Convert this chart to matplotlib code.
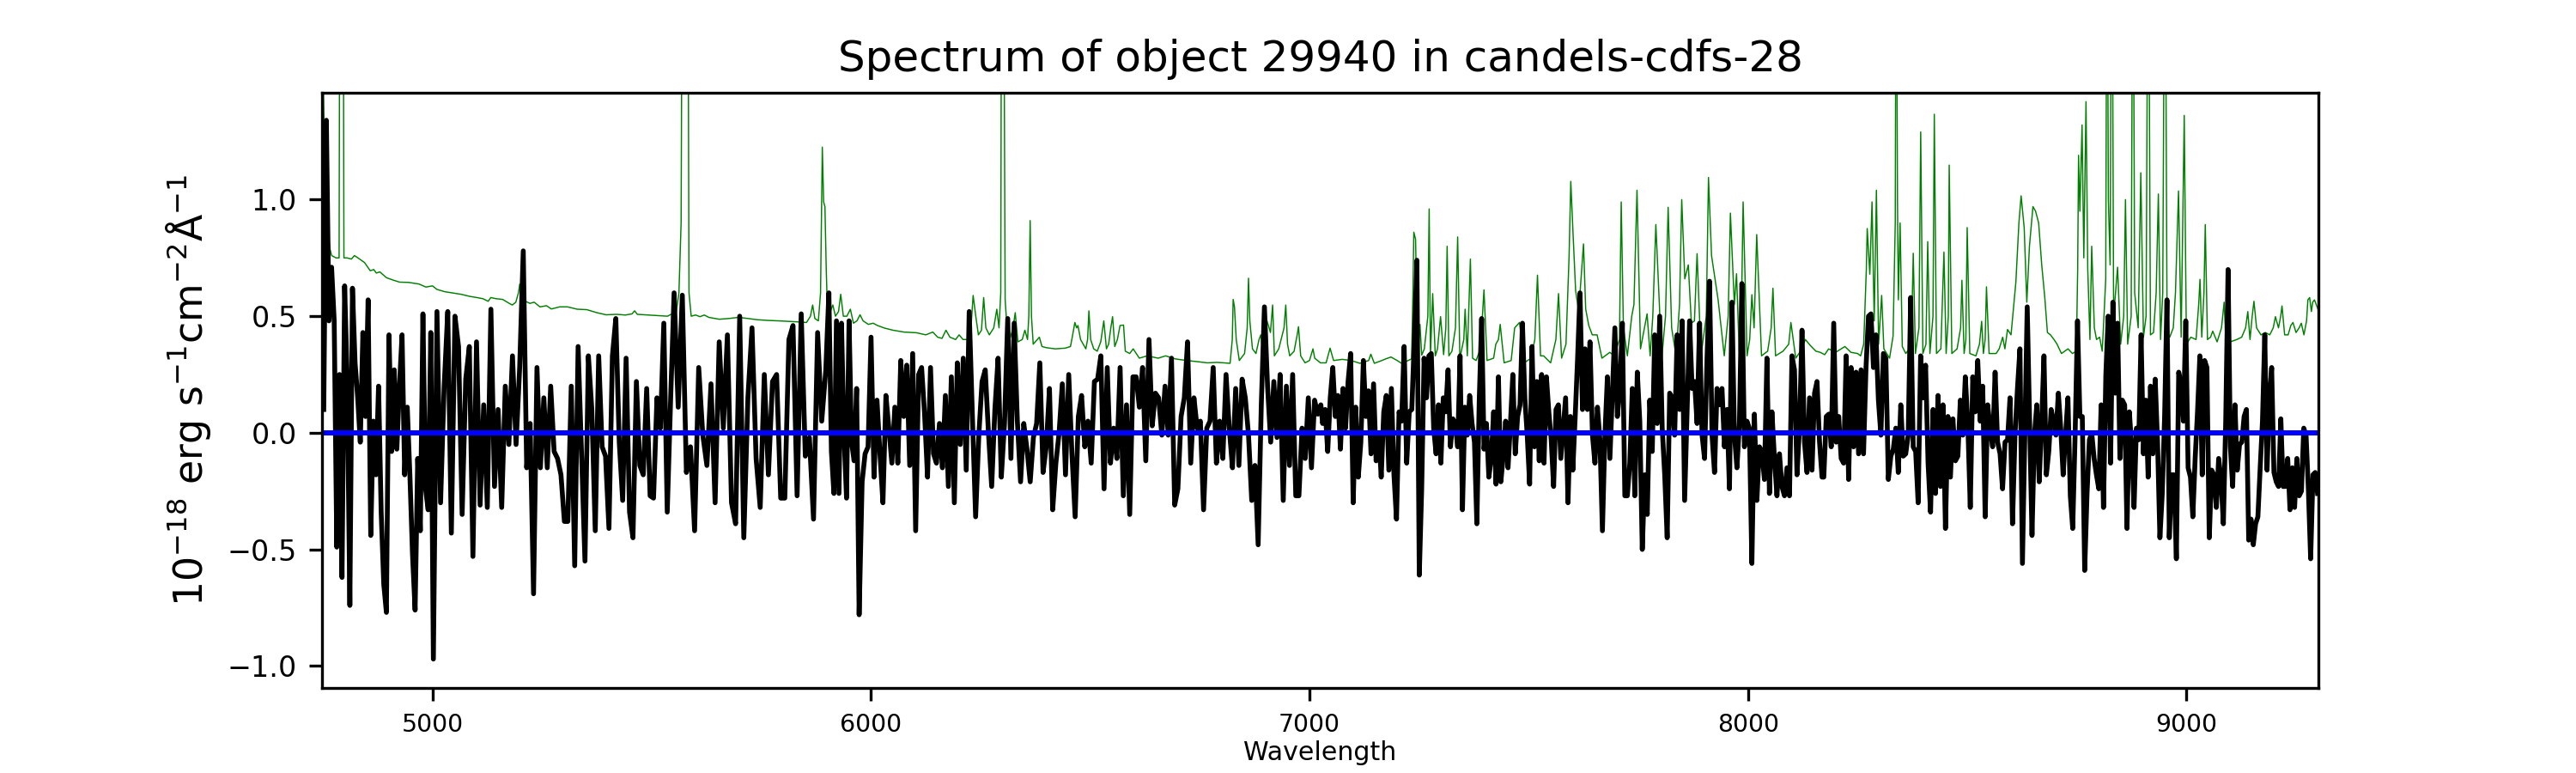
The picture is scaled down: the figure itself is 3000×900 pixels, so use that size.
import numpy as np
import matplotlib
matplotlib.use("Agg")
import matplotlib.pyplot as plt

# ---- flux (10^-18 erg/s/cm2/A) in four wavelength chunks ----
flux_a = [0.10, 1.34, 0.48, 0.71, 0.48, -0.49, 0.25, -0.62, 0.63, 0.22,
          -0.74, 0.62, 0.30, 0.15, -0.04, 0.43, 0.07, 0.57, -0.44, 0.05,
          -0.18, 0.20, -0.34, -0.65, -0.77, 0.42, -0.08, 0.27, -0.07, 0.20,
          0.42, -0.18, 0.11, -0.18, -0.52, -0.76, -0.11, -0.42, 0.51, -0.24,
          -0.33, 0.43, -0.97, 0.52, -0.30, 0.20, 0.52, -0.43, 0.50, 0.37,
          -0.35, 0.23, 0.37, -0.53, 0.39, -0.31, 0.12, -0.32, 0.53, -0.23,
          0.10, -0.32, 0.20, -0.05, 0.33, -0.05, 0.28, 0.78, -0.15, 0.04,
          -0.69, 0.28, -0.15, 0.15, -0.15, 0.20, -0.08, -0.11, -0.18, -0.38,
          -0.38, 0.20, -0.57, 0.37, -0.09, -0.55, 0.33, 0.10, -0.42, 0.33,
          -0.06, -0.10, -0.41, 0.33, 0.49, -0.04, -0.29, 0.32, -0.34, -0.45,
          0.22, -0.14, -0.18, 0.19, -0.27, -0.28, 0.15, 0.02, 0.47, -0.34,
          0.15, 0.60, 0.11, 0.59, -0.17, -0.06, -0.42, 0.28, -0.01, -0.14,
          0.21, -0.30, 0.39, 0.02, 0.42, -0.30, -0.39, 0.50, -0.45, 0.15,
          0.45, -0.11, -0.32, 0.25, -0.18, 0.22, 0.25, -0.28, -0.28, 0.40,
          0.46, -0.27, 0.51, -0.10, -0.02, -0.37, 0.43, 0.05, 0.27]
knots_a = ([0, 42, 67, 111, 148], [4752, 5002, 5207, 5551, 5897])

flux_b = [0.60, -0.08, -0.26, 0.48, -0.26, 0.47, -0.01, -0.28,
          0.48, -0.04, -0.12, 0.19, -0.78, -0.21, -0.09, -0.06, 0.41, -0.19,
          0.14, -0.09, -0.30, 0.16, 0.02, -0.13, 0.11, -0.13, 0.31, 0.07,
          0.29, -0.14, 0.34, -0.42, 0.25, 0.28, 0.08, -0.19, 0.28, -0.09,
          -0.13, 0.04, -0.15, 0.16, -0.23, 0.24, -0.30, 0.30, -0.05, 0.32,
          -0.16, 0.52, 0.07, -0.36, -0.01, 0.22, 0.27, 0.00, -0.23, 0.10,
          0.32, -0.19, 0.04, 0.49, -0.11, 0.47, 0.05, -0.21, 0.04, -0.07,
          -0.21, -0.02, 0.04, 0.30, -0.17, -0.06, 0.19, -0.33, -0.13, 0.00,
          0.21, -0.18, 0.25, -0.09, -0.36, 0.07, 0.16, -0.06, 0.05, -0.13,
          0.22, 0.23, 0.33, -0.24, 0.28, -0.13, 0.02, -0.11, 0.28, -0.27,
          0.12, -0.35, 0.24, 0.24, 0.11, 0.28, -0.12, 0.40, 0.03, 0.17,
          0.15, -0.01, 0.20, -0.01, 0.32, -0.31, -0.24, 0.07, 0.15, 0.39,
          -0.13, 0.15, 0.02, 0.05, -0.33, 0.02, 0.05, 0.28, -0.13, 0.05,
          -0.11, 0.25, 0.02, -0.15, 0.19, -0.14, 0.23, 0.15, -0.01, -0.29,
          -0.14, -0.48, 0.12, 0.54, 0.20, -0.04, 0.22, -0.02, 0.25, -0.29,
          0.20, -0.14, 0.25, -0.27, -0.27, 0.02, -0.11, 0.15, -0.15, 0.14,
          0.08, 0.12]
knots_b = ([0, 12, 49, 139, 159], [5904, 5973, 6224, 6883, 7026])

flux_c = [0.04, 0.10, -0.08, 0.15, 0.28, 0.07, 0.16, -0.07,
          0.19, 0.02, 0.22, 0.34, -0.30, 0.11, -0.19, -0.04, 0.31, 0.07,
          0.18, -0.09, 0.21, -0.12, 0.00, -0.19, 0.09, 0.16, -0.16, 0.19,
          -0.18, -0.37, 0.09, 0.05, 0.37, -0.13, 0.09, 0.10, 0.40, 0.74,
          -0.61, -0.24, 0.32, 0.15, 0.33, 0.34, 0.02, -0.09, 0.12, -0.13,
          0.15, 0.09, 0.27, -0.06, 0.06, 0.04, -0.06, 0.33, -0.33, 0.11,
          -0.01, 0.16, 0.04, -0.04, -0.39, 0.14, 0.49, -0.07, 0.04, -0.19,
          -0.11, 0.09, -0.22, 0.24, -0.21, -0.10, 0.05, -0.15, 0.04, 0.25,
          -0.09, 0.07, 0.12, 0.47, 0.15, -0.01, -0.22, 0.37, -0.06, 0.22,
          -0.12, 0.25, -0.13, 0.24, 0.09, -0.03, -0.23, 0.10, 0.12, -0.11,
          0.02, 0.15, -0.30, 0.07, -0.16, 0.07, 0.32, 0.60, 0.10, 0.36,
          0.10, 0.39, -0.01, -0.13, 0.11, -0.03, -0.42, -0.01, 0.24, -0.11,
          0.17, 0.45, 0.07, 0.19, 0.47, -0.27, -0.27, -0.13, 0.19, -0.27,
          0.26, 0.05, -0.50, -0.18, -0.35, 0.14, -0.08, 0.42, 0.04, 0.50,
          0.02, -0.18, -0.45, 0.17, 0.15, -0.01, 0.42, 0.10, 0.48, -0.29,
          0.09, 0.48, 0.19, 0.22, 0.04, 0.47, -0.01, -0.11, 0.32, 0.65,
          -0.01, -0.17, 0.19, 0.12, 0.19, -0.06, 0.10, -0.24, 0.56, -0.01,
          -0.15, 0.04, 0.64, -0.06, 0.05, 0.02, -0.56, 0.08, -0.29, -0.06,
          -0.08, -0.20, 0.32, -0.26, 0.09, -0.11, -0.27, -0.09, -0.23, -0.27,
          -0.15, -0.27, 0.33, 0.27, -0.18, 0.02, 0.44, -0.04, -0.17, 0.15,
          -0.16, 0.17, 0.22, -0.04, -0.19]
knots_c = ([0, 37, 105, 174, 202], [7030, 7245, 7617, 8009, 8169])

flux_d = [-0.19, 0.07, 0.08, -0.06, 0.47, -0.04, 0.07, -0.11, -0.13, 0.33,
          -0.20, 0.28, -0.06, 0.26, -0.09, 0.27, -0.09, 0.28, 0.50, 0.51,
          0.28, 0.42, 0.14, -0.01, 0.34, 0.32, -0.20, -0.10, -0.07, 0.02,
          -0.17, 0.12, -0.10, -0.09, -0.01, 0.58, -0.06, -0.08, -0.30, 0.33,
          0.15, 0.29, -0.13, -0.34, 0.10, -0.26, 0.16, -0.23, 0.12, -0.41,
          0.07, -0.19, 0.06, -0.12, -0.10, 0.14, -0.01, 0.24, 0.04, -0.32,
          0.24, 0.09, 0.31, 0.05, 0.20, -0.36, 0.12, 0.02, -0.06, 0.26,
          -0.04, -0.09, -0.24, -0.04, -0.03, 0.15, -0.39, -0.01, 0.19, 0.36,
          -0.56, -0.01, 0.54, 0.05, -0.44, -0.01, 0.12, -0.21, 0.04, 0.33,
          -0.18, -0.08, 0.10, 0.05, -0.01, 0.17, 0.02, -0.18, -0.01, 0.15,
          -0.27, -0.41, -0.01, 0.48, 0.07, 0.07, -0.59, -0.26, -0.03, 0.00,
          -0.11, -0.18, -0.24, 0.12, -0.32, 0.25, 0.50, -0.13, 0.56, 0.17,
          0.47, -0.11, 0.14, 0.12, -0.41, 0.09, -0.06, -0.32, 0.02, -0.03,
          0.42, -0.09, 0.14, -0.19, 0.20, -0.09, 0.23, -0.04, -0.45, -0.26,
          0.07, 0.57, -0.45, -0.18, -0.18, -0.54, 0.26, 0.21, 0.05, 0.48,
          -0.15, -0.19, -0.36, -0.11, 0.09, 0.33, -0.18, 0.31, 0.28, -0.45,
          -0.16, -0.18, -0.32, -0.11, -0.20, -0.39, 0.05, 0.70, -0.06, -0.23,
          0.12, -0.16, -0.05, -0.04, 0.07, 0.10, -0.46, -0.37, -0.48, -0.39,
          -0.36, -0.15, 0.05, 0.42, -0.16, 0.15, 0.28, -0.17, -0.21, -0.23,
          0.06, -0.23, -0.23, -0.11, -0.33, -0.15, -0.32, -0.11, -0.27, -0.25,
          0.02, -0.01, -0.24, -0.54, -0.18, -0.17, -0.26]
knots_d = ([0, 80, 106, 167, 206], [8173, 8626, 8768, 9095, 9299])

# ---- noise / sky spectrum (green) ----
sky_wave = [4750, 4754, 4758, 4762, 4766, 4770, 4780, 4787, 4789, 4796, 4798, 4805, 4815, 4822, 4830,
            4845, 4858, 4866, 4872, 4880, 4895, 4910, 4925, 4945, 4969, 4985, 5000, 5010, 5028, 5045,
            5065, 5085, 5101, 5115, 5127, 5133, 5145, 5160, 5175, 5182, 5190, 5196, 5199, 5203, 5212,
            5222, 5232, 5245, 5260, 5271, 5290, 5308, 5330, 5352, 5375, 5396, 5420, 5440, 5455, 5461,
            5467, 5484, 5510, 5536, 5546, 5556, 5562, 5567, 5570, 5582, 5585, 5590, 5600, 5610, 5620,
            5630, 5654, 5675, 5698, 5720, 5740, 5764, 5790, 5810, 5830, 5853, 5862, 5867, 5872, 5880,
            5885, 5889, 5892, 5895, 5898, 5901, 5907, 5913, 5919, 5926, 5931, 5937, 5945, 5953, 5960,
            5968, 5975, 5982, 5994, 6005, 6015, 6031, 6050, 6075, 6104, 6125, 6141, 6152, 6162, 6171,
            6180, 6193, 6201, 6210, 6220, 6228, 6233, 6239, 6245, 6252, 6257, 6262, 6270, 6280, 6287,
            6292, 6296, 6298, 6302, 6306, 6312, 6318, 6324, 6329, 6335, 6345, 6351, 6357, 6360, 6363,
            6366, 6370, 6384, 6390, 6400, 6420, 6443, 6455, 6460, 6465, 6469, 6472, 6478, 6490, 6494,
            6497, 6501, 6508, 6516, 6524, 6531, 6537, 6542, 6547, 6551, 6556, 6562, 6568, 6576, 6580,
            6590, 6598, 6605, 6612, 6630, 6655, 6672, 6694, 6720, 6745, 6767, 6790, 6819, 6824, 6826,
            6829, 6833, 6840, 6852, 6858, 6861, 6864, 6870, 6878, 6885, 6889, 6893, 6898, 6903, 6908,
            6911, 6916, 6920, 6930, 6942, 6946, 6950, 6955, 6965, 6972, 6975, 6980, 6990, 7000, 7008,
            7012, 7025, 7038, 7047, 7055, 7075, 7095, 7115, 7135, 7140, 7148, 7165, 7174, 7186, 7200,
            7210, 7225, 7233, 7236, 7238, 7242, 7247, 7252, 7256, 7262, 7270, 7273, 7276, 7281, 7287,
            7292, 7299, 7306, 7311, 7314, 7318, 7325, 7333, 7338, 7343, 7352, 7355, 7360, 7367, 7372,
            7380, 7390, 7398, 7405, 7420, 7425, 7431, 7435, 7444, 7460, 7468, 7479, 7490, 7505, 7514,
            7520, 7527, 7534, 7550, 7562, 7568, 7575, 7585, 7592, 7596, 7601, 7607, 7614, 7625, 7630,
            7637, 7645, 7656, 7667, 7685, 7695, 7707, 7711, 7716, 7725, 7735, 7740, 7747, 7755, 7770,
            7777, 7783, 7790, 7798, 7803, 7812, 7818, 7826, 7836, 7844, 7849, 7856, 7864, 7871, 7878,
            7884, 7893, 7905, 7910, 7917, 7932, 7946, 7955, 7960, 7969, 7974, 7980, 7985, 7989, 7998,
            8004, 8009, 8014, 8020, 8031, 8045, 8053, 8057, 8063, 8080, 8093, 8098, 8109, 8120, 8131,
            8142, 8155, 8165, 8175, 8184, 8200, 8221, 8235, 8250, 8257, 8264, 8270, 8272, 8278, 8283,
            8288, 8293, 8298, 8305, 8310, 8323, 8331, 8336, 8338, 8341, 8343, 8347, 8352, 8360, 8368,
            8374, 8377, 8382, 8390, 8394, 8399, 8406, 8410, 8415, 8422, 8425, 8430, 8440, 8447, 8452,
            8457, 8459, 8465, 8477, 8485, 8488, 8493, 8497, 8500, 8506, 8520, 8528, 8533, 8537, 8541,
            8544, 8550, 8566, 8573, 8581, 8586, 8592, 8600, 8611, 8618, 8623, 8630, 8636, 8642, 8650,
            8656, 8663, 8670, 8677, 8683, 8690, 8698, 8705, 8715, 8730, 8740, 8749, 8752, 8754, 8757,
            8762, 8766, 8771, 8775, 8780, 8784, 8790, 8795, 8802, 8808, 8812, 8816, 8819, 8822, 8826,
            8830, 8834, 8843, 8850, 8857, 8861, 8866, 8874, 8878, 8882, 8890, 8896, 8902, 8908, 8913,
            8918, 8925, 8931, 8936, 8941, 8946, 8951, 8956, 8962, 8970, 8975, 8982, 8988, 8995, 9000,
            9010, 9022, 9028, 9031, 9035, 9040, 9043, 9048, 9055, 9060, 9070, 9080, 9086, 9090, 9100,
            9115, 9126, 9135, 9140, 9145, 9150, 9154, 9160, 9170, 9180, 9190, 9198, 9203, 9210, 9215,
            9218, 9224, 9232, 9238, 9243, 9250, 9257, 9262, 9268, 9274, 9277, 9281, 9285, 9288, 9292,
            9296, 9300]
sky_flux = [1.60, 1.20, 0.98, 0.86, 0.79, 0.76, 0.75, 0.75, 2.5, 2.5, 0.75, 0.75, 0.745, 0.76, 0.75,
            0.73, 0.695, 0.70, 0.685, 0.69, 0.665, 0.655, 0.646, 0.645, 0.638, 0.625, 0.63, 0.615, 0.605, 0.60,
            0.594, 0.585, 0.58, 0.575, 0.564, 0.58, 0.575, 0.572, 0.555, 0.548, 0.56, 0.60, 0.638, 0.56, 0.564,
            0.555, 0.56, 0.54, 0.545, 0.531, 0.54, 0.54, 0.53, 0.528, 0.515, 0.506, 0.508, 0.505, 0.51, 0.523,
            0.508, 0.506, 0.503, 0.50, 0.51, 0.52, 0.60, 0.9, 2.5, 2.5, 0.60, 0.50, 0.505, 0.498, 0.505,
            0.495, 0.487, 0.49, 0.495, 0.49, 0.485, 0.482, 0.48, 0.478, 0.476, 0.473, 0.50, 0.548, 0.49, 0.48,
            0.60, 1.225, 0.99, 0.97, 0.70, 0.50, 0.52, 0.548, 0.50, 0.52, 0.594, 0.50, 0.50, 0.53, 0.47,
            0.48, 0.506, 0.48, 0.465, 0.47, 0.46, 0.449, 0.44, 0.432, 0.429, 0.42, 0.432, 0.41, 0.405, 0.44,
            0.41, 0.40, 0.42, 0.40, 0.40, 0.45, 0.589, 0.50, 0.42, 0.44, 0.58, 0.45, 0.42, 0.45, 0.53,
            0.45, 0.60, 2.5, 2.5, 0.57, 0.40, 0.41, 0.45, 0.515, 0.39, 0.40, 0.44, 0.40, 0.50, 0.91,
            0.50, 0.38, 0.41, 0.37, 0.365, 0.36, 0.363, 0.37, 0.42, 0.473, 0.45, 0.46, 0.40, 0.36, 0.40,
            0.523, 0.40, 0.36, 0.35, 0.39, 0.48, 0.36, 0.38, 0.45, 0.498, 0.37, 0.40, 0.46, 0.462, 0.35,
            0.34, 0.36, 0.34, 0.32, 0.33, 0.32, 0.33, 0.317, 0.31, 0.305, 0.30, 0.302, 0.298, 0.40, 0.572,
            0.54, 0.40, 0.31, 0.34, 0.45, 0.663, 0.48, 0.36, 0.34, 0.40, 0.42, 0.36, 0.38, 0.48, 0.45,
            0.43, 0.548, 0.33, 0.36, 0.45, 0.548, 0.38, 0.33, 0.35, 0.42, 0.455, 0.33, 0.30, 0.31, 0.36,
            0.32, 0.30, 0.30, 0.363, 0.31, 0.315, 0.31, 0.298, 0.31, 0.337, 0.298, 0.31, 0.317, 0.325, 0.31,
            0.298, 0.31, 0.317, 0.60, 0.86, 0.83, 0.317, 0.465, 0.333, 0.36, 0.50, 0.96, 0.33, 0.597, 0.33,
            0.36, 0.498, 0.335, 0.45, 0.80, 0.33, 0.35, 0.45, 0.84, 0.32, 0.40, 0.53, 0.33, 0.745, 0.32,
            0.31, 0.36, 0.613, 0.31, 0.32, 0.38, 0.40, 0.465, 0.30, 0.31, 0.45, 0.473, 0.30, 0.32, 0.40,
            0.676, 0.33, 0.33, 0.30, 0.40, 0.597, 0.32, 0.38, 0.75, 1.078, 0.86, 0.61, 0.52, 0.81, 0.53,
            0.46, 0.42, 0.42, 0.32, 0.345, 0.33, 0.40, 0.99, 0.45, 0.33, 0.50, 0.55, 1.04, 0.36, 0.51,
            0.33, 0.50, 0.893, 0.55, 0.31, 0.50, 0.967, 0.45, 0.33, 0.55, 1.00, 0.66, 0.72, 0.47, 0.48,
            0.768, 0.33, 0.50, 1.095, 0.76, 0.57, 0.33, 0.50, 0.942, 0.55, 0.682, 0.35, 0.50, 0.99, 0.33,
            0.40, 0.592, 0.45, 0.85, 0.33, 0.35, 0.45, 0.62, 0.33, 0.35, 0.38, 0.473, 0.32, 0.35, 0.40,
            0.375, 0.35, 0.345, 0.335, 0.36, 0.345, 0.37, 0.345, 0.34, 0.33, 0.38, 0.70, 0.876, 0.68, 0.99,
            0.48, 1.04, 0.38, 0.589, 0.36, 0.32, 0.415, 0.90, 2.5, 1.0, 0.57, 0.90, 0.37, 0.34, 0.36,
            0.50, 0.77, 0.34, 0.45, 1.29, 0.34, 0.38, 0.82, 0.34, 0.50, 1.366, 0.34, 0.36, 0.775, 0.34,
            0.50, 1.148, 0.34, 0.36, 0.45, 0.654, 0.34, 0.40, 0.88, 0.34, 0.33, 0.38, 0.478, 0.34, 0.40,
            0.626, 0.34, 0.34, 0.36, 0.41, 0.36, 0.443, 0.42, 0.645, 0.90, 1.016, 0.88, 0.56, 0.80, 0.97,
            0.95, 0.90, 0.72, 0.58, 0.43, 0.42, 0.40, 0.38, 0.34, 0.36, 0.34, 0.35, 0.70, 1.19, 0.95,
            1.32, 0.75, 1.42, 0.70, 0.40, 0.80, 0.45, 0.40, 0.41, 0.35, 0.50, 0.66, 2.5, 1.0, 0.72,
            2.5, 0.50, 0.71, 0.38, 0.50, 1.0, 0.38, 0.50, 2.5, 0.60, 0.45, 1.115, 0.41, 0.50, 2.5,
            0.42, 0.43, 0.60, 1.024, 0.40, 0.60, 2.5, 0.42, 0.41, 0.45, 0.60, 1.037, 0.41, 1.361, 0.38,
            0.41, 0.40, 0.55, 0.658, 0.41, 0.60, 0.893, 0.40, 0.41, 0.436, 0.39, 0.45, 0.56, 0.39, 0.39,
            0.40, 0.41, 0.45, 0.52, 0.40, 0.50, 0.564, 0.45, 0.42, 0.43, 0.42, 0.45, 0.498, 0.45, 0.50,
            0.544, 0.42, 0.42, 0.46, 0.473, 0.43, 0.45, 0.47, 0.42, 0.48, 0.57, 0.58, 0.52, 0.56, 0.57,
            0.55, 0.53]

obj_id = 29940
field = "candels-cdfs-28"

# wavelength of each flux sample, pinned to features
wave = []
flux = []
for f, (k_idx, k_wave) in [(flux_a, knots_a), (flux_b, knots_b), (flux_c, knots_c), (flux_d, knots_d)]:
    wave.append(np.interp(np.arange(len(f)), k_idx, k_wave))
    flux.append(np.array(f))
wave = np.concatenate(wave)
flux = np.concatenate(flux)

fig, ax = plt.subplots(figsize=(10, 3), dpi=300)
ax.plot(sky_wave, sky_flux, color="green", lw=0.35)
ax.plot(wave, flux, color="black", lw=1.35)
ax.axhline(0.0, color="blue", lw=1.45)

ax.set_xlim(4748, 9301)
ax.set_ylim(-1.094, 1.458)
ax.set_title(f"Spectrum of object {obj_id} in {field}", fontsize=12)
ax.set_xlabel("Wavelength", fontsize=7.2, labelpad=1)
ax.set_ylabel(r"$10^{-18}$ erg s$^{-1}$cm$^{-2}$Å$^{-1}$", fontsize=11)
ax.tick_params(axis="x", labelsize=6.8)
ax.tick_params(axis="y", labelsize=8)

fig.savefig("out.png", dpi=300)
